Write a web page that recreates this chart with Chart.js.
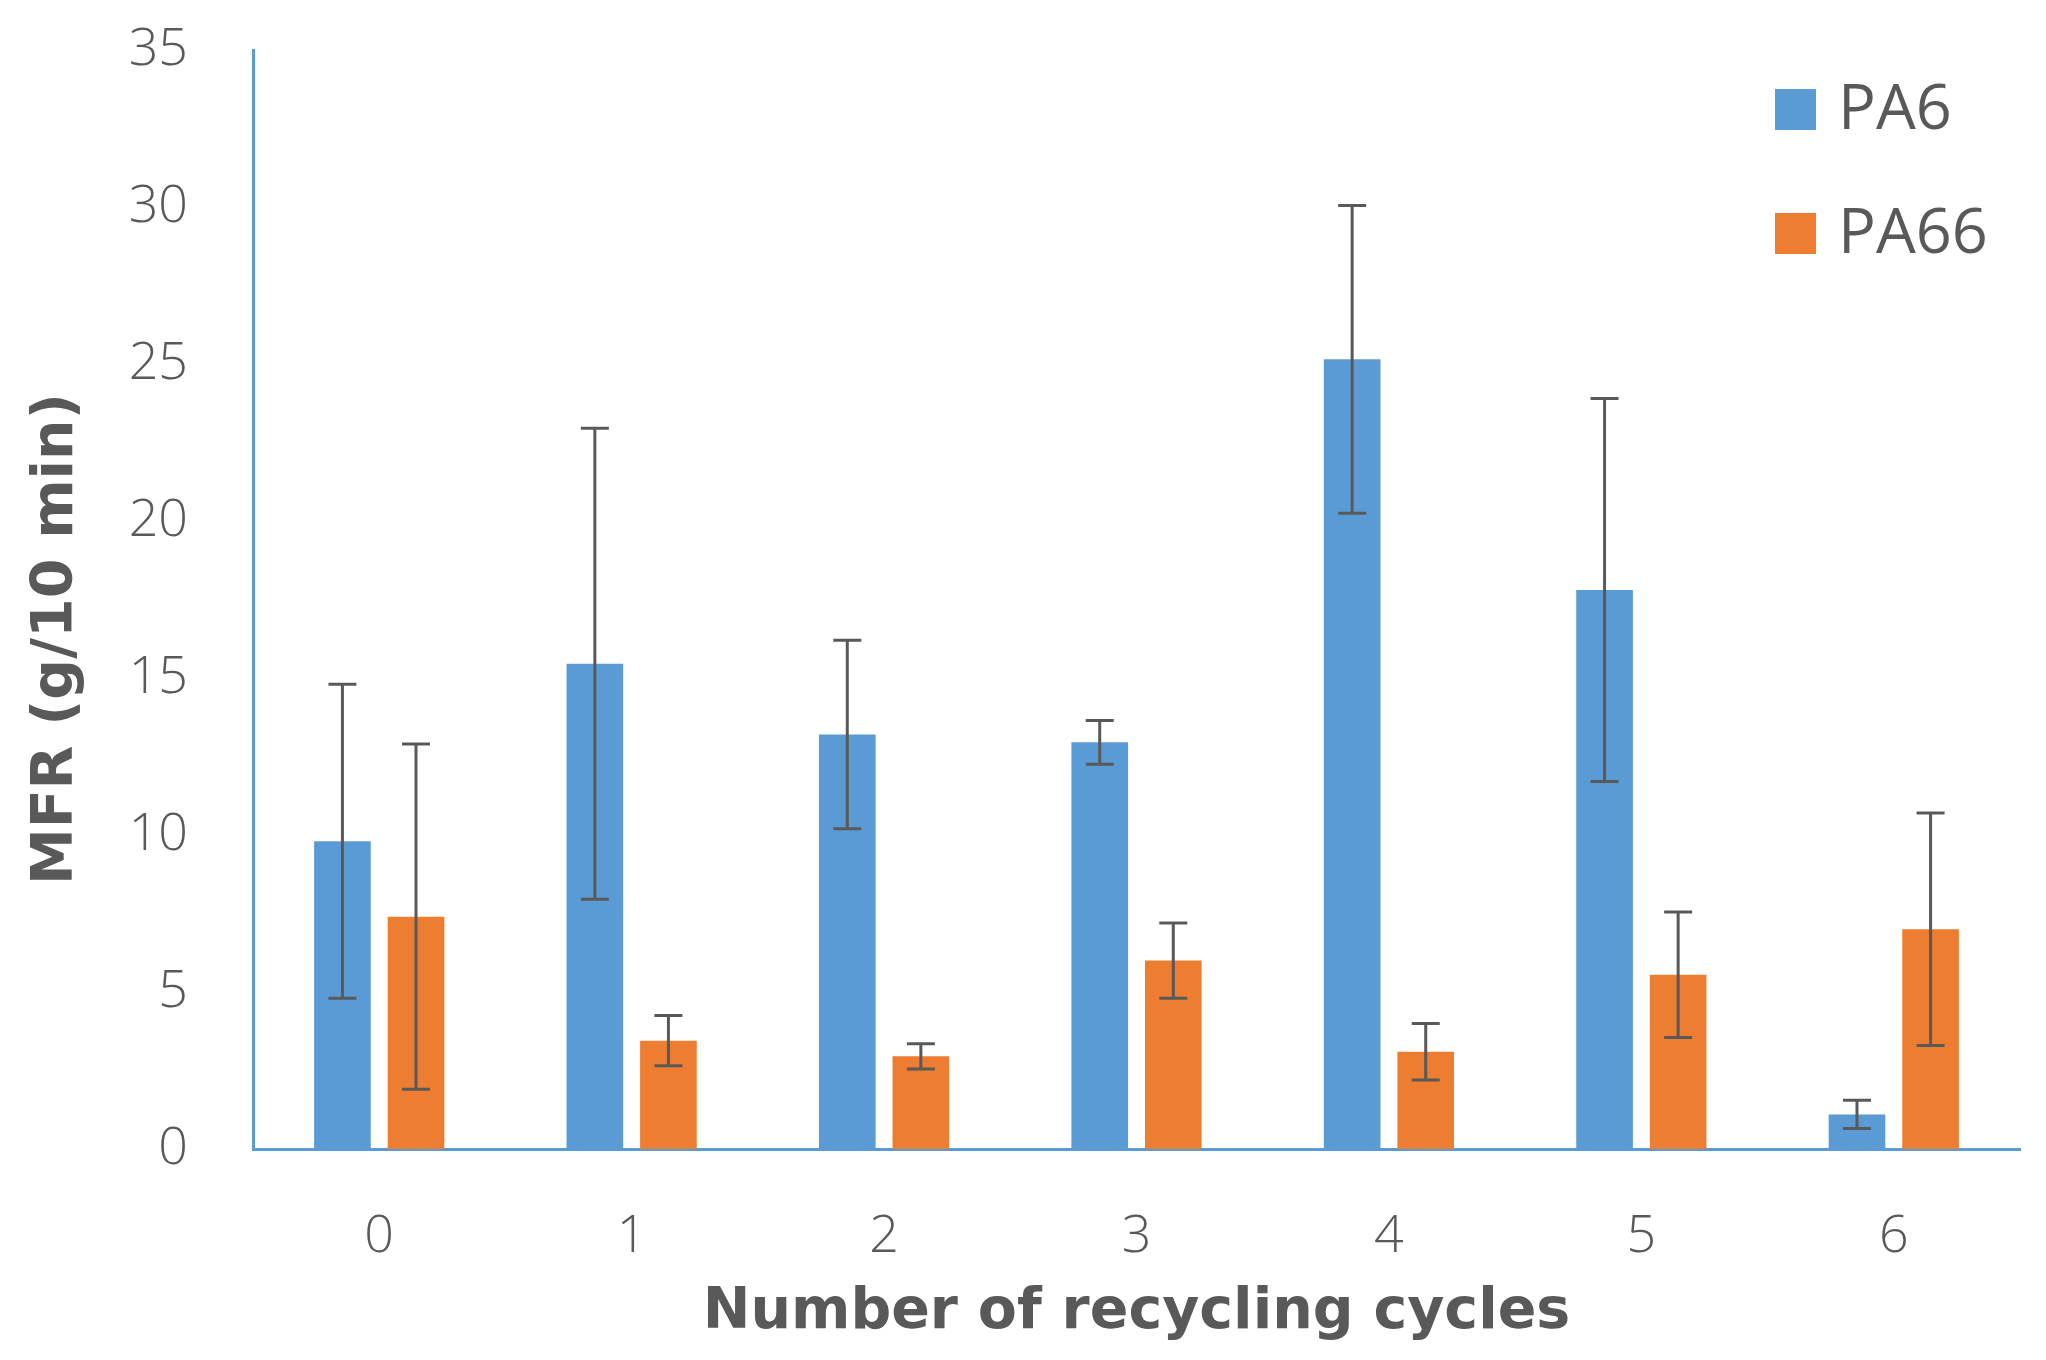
<!DOCTYPE html>
<html>
<head>
<meta charset="utf-8">
<script src="https://cdn.jsdelivr.net/npm/chart.js@4.4.1/dist/chart.umd.min.js"></script>
<style>
  html, body { margin: 0; padding: 0; background: #ffffff; }
  #wrap { width: 2046px; height: 1360px; }
</style>
</head>
<body>
<div id="wrap"><canvas id="mfrChart" width="2046" height="1360"></canvas></div>
<script>
// data
const cycles = ['0', '1', '2', '3', '4', '5', '6'];
const pa6Values = [9.8, 15.45, 13.2, 12.95, 25.15, 17.8, 1.1];
const pa6Errors = [5.0, 7.5, 3.0, 0.7, 4.9, 6.1, 0.45];
const pa66Values = [7.4, 3.45, 2.95, 6.0, 3.1, 5.55, 7.0];
const pa66Errors = [5.5, 0.8, 0.4, 1.2, 0.9, 2.0, 3.7];
const seriesNames = ['PA6', 'PA66'];
const yMin = 0, yMax = 35, yStep = 5;

const textColor = '#595959';
const blue = '#5B9BD5';
const orange = '#ED7D31';
const allErrors = [pa6Errors, pa66Errors];

// error bars (no built-in in Chart.js)
const errorBars = {
    id: 'errorBars',
    afterDatasetsDraw(chart) {
        const ctx = chart.ctx;
        const yScale = chart.scales.y;
        ctx.save();
        ctx.strokeStyle = '#595959';
        ctx.lineWidth = 3;
        chart.data.datasets.forEach((ds, i) => {
            const meta = chart.getDatasetMeta(i);
            meta.data.forEach((bar, j) => {
                const v = ds.data[j];
                const e = allErrors[i][j];
                const yTop = yScale.getPixelForValue(v + e);
                const yBot = yScale.getPixelForValue(v - e);
                const cap = 14;
                ctx.beginPath();
                ctx.moveTo(bar.x, yTop);
                ctx.lineTo(bar.x, yBot);
                ctx.moveTo(bar.x - cap, yTop);
                ctx.lineTo(bar.x + cap, yTop);
                ctx.moveTo(bar.x - cap, yBot);
                ctx.lineTo(bar.x + cap, yBot);
                ctx.stroke();
            });
        });
        ctx.restore();
    }
};

// legend sits inside the plot, top right
const insideLegend = {
    id: 'insideLegend',
    afterDraw(chart) {
        const ctx = chart.ctx;
        const area = chart.chartArea;
        const left = area.right - 245;
        ctx.save();
        ctx.font = '63px "Open Sans"';
        ctx.textBaseline = 'middle';
        ctx.textAlign = 'left';
        chart.data.datasets.forEach((ds, i) => {
            const cy = area.top + 59 + i * 124;
            ctx.fillStyle = ds.backgroundColor;
            ctx.fillRect(left, cy - 20, 41, 41);
            ctx.fillStyle = textColor;
            ctx.fillText(ds.label, left + 63, cy + 2);
        });
        ctx.restore();
    }
};

const ctx = document.getElementById('mfrChart').getContext('2d');
new Chart(ctx, {
    type: 'bar',
    data: {
        labels: cycles,
        datasets: [
            { label: seriesNames[0], data: pa6Values, backgroundColor: blue },
            { label: seriesNames[1], data: pa66Values, backgroundColor: orange }
        ]
    },
    options: {
        responsive: false,
        devicePixelRatio: 1,
        animation: false,
        categoryPercentage: 0.583,
        barPercentage: 0.77,
        layout: { padding: { top: 50, right: 26, bottom: 13, left: 0 } },
        plugins: {
            legend: { display: false },
            tooltip: { enabled: false }
        },
        scales: {
            x: {
                grid: { display: false, drawTicks: false },
                border: { display: true, color: blue, width: 3 },
                ticks: { color: textColor, padding: 57, font: { family: 'Open Sans', size: 52, weight: '300' } },
                title: {
                    display: true,
                    text: 'Number of recycling cycles',
                    color: textColor,
                    padding: { top: 0, bottom: 0 },
                    font: { family: 'DejaVu Sans', size: 57, weight: 'bold' }
                },
                afterFit: (scale) => { scale.height = 198; }
            },
            y: {
                min: yMin,
                max: yMax,
                // tickLength only spaces the labels; the marks themselves are hidden
                grid: { display: false, drawTicks: true, tickLength: 60 },
                border: { display: true, color: blue, width: 3 },
                ticks: { stepSize: yStep, color: textColor, padding: 5, font: { family: 'Open Sans', size: 52, weight: '300' } },
                title: {
                    display: true,
                    text: 'MFR (g/10 min)    ',
                    color: textColor,
                    padding: { top: 23, bottom: 0 },
                    font: { family: 'DejaVu Sans', size: 57, weight: 'bold' }
                },
                afterFit: (scale) => { scale.width = 253; }
            }
        }
    },
    plugins: [errorBars, insideLegend]
});
</script>
</body>
</html>
